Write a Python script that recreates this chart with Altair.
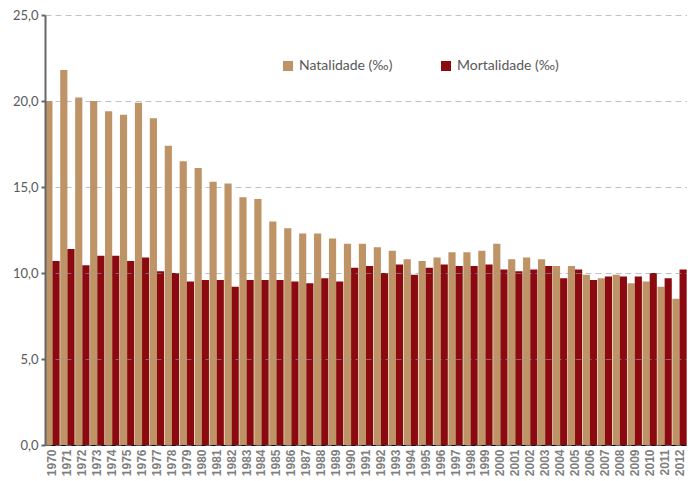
import altair as alt
import pandas as pd

years = list(range(1970, 2013))
natalidade = [20.0, 21.8, 20.2, 20.0, 19.4, 19.2, 19.9, 19.0, 17.4, 16.5,
              16.1, 15.3, 15.2, 14.4, 14.3, 13.0, 12.6, 12.3, 12.3, 12.0,
              11.7, 11.7, 11.5, 11.3, 10.8, 10.7, 10.9, 11.2, 11.2, 11.3,
              11.7, 10.8, 10.9, 10.8, 10.4, 10.4, 9.9, 9.7, 9.9, 9.4,
              9.5, 9.2, 8.5]
mortalidade = [10.7, 11.4, 10.45, 11.0, 11.0, 10.7, 10.9, 10.1, 10.0, 9.5,
               9.6, 9.6, 9.2, 9.6, 9.6, 9.6, 9.5, 9.4, 9.7, 9.5,
               10.3, 10.4, 10.0, 10.5, 9.9, 10.3, 10.5, 10.4, 10.4, 10.5,
               10.2, 10.1, 10.2, 10.4, 9.7, 10.2, 9.6, 9.8, 9.8, 9.8,
               10.0, 9.7, 10.2]
series = ["Natalidade (‰)", "Mortalidade (‰)"]
colors = ["#BE9366", "#8B0A10"]

rows = []
for i, y in enumerate(years):
    rows.append({"ano": str(y), "serie": series[0], "valor": natalidade[i]})
    rows.append({"ano": str(y), "serie": series[1], "valor": mortalidade[i]})
df = pd.DataFrame(rows)

chart = alt.Chart(df).mark_bar(strokeWidth=0).encode(
    x=alt.X("ano:N", title=None,
            scale=alt.Scale(paddingInner=0.04, paddingOuter=0.02),
            axis=alt.Axis(labelAngle=270, labelFontWeight="bold", labelFontSize=12,
                          labelColor="#7f7f7f", labelFont="Liberation Sans",
                          domainColor="#000000", domainWidth=1, ticks=False,
                          labelPadding=4, labelBaseline="middle", labelAlign="right")),
    xOffset=alt.XOffset("serie:N", sort=series),
    y=alt.Y("valor:Q", title=None,
            scale=alt.Scale(domain=[0, 25], nice=False),
            axis=alt.Axis(values=[0, 5, 10, 15, 20, 25],
                          labelExpr="replace(format(datum.value, '.1f'), '.', ',')",
                          labelFontSize=13, labelColor="#595959", labelFont="Lato",
                          domainColor="#666666", domainWidth=2,
                          tickColor="#666666", tickSize=4, tickWidth=2,
                          labelPadding=3,
                          grid=True, gridDash=[6, 4], gridColor="#999999",
                          gridOpacity=0.6, gridWidth=1, zindex=1)),
    color=alt.Color("serie:N", sort=series,
                    scale=alt.Scale(domain=series, range=colors),
                    legend=alt.Legend(title=None, orient="none", direction="horizontal",
                                      legendX=236, legendY=44,
                                      symbolType="square", symbolSize=100,
                                      symbolStrokeWidth=0,
                                      labelFontSize=14, labelColor="#595959",
                                      labelFont="Lato", labelOffset=4,
                                      columnPadding=46)),
).properties(
    width=642, height=430,
    autosize=alt.AutoSizeParams(type="none"),
    padding={"left": 37, "top": 7, "right": 0, "bottom": 36},
).configure_view(stroke=None)

chart.save("out.html", embed_options={"renderer": "svg", "actions": False})
